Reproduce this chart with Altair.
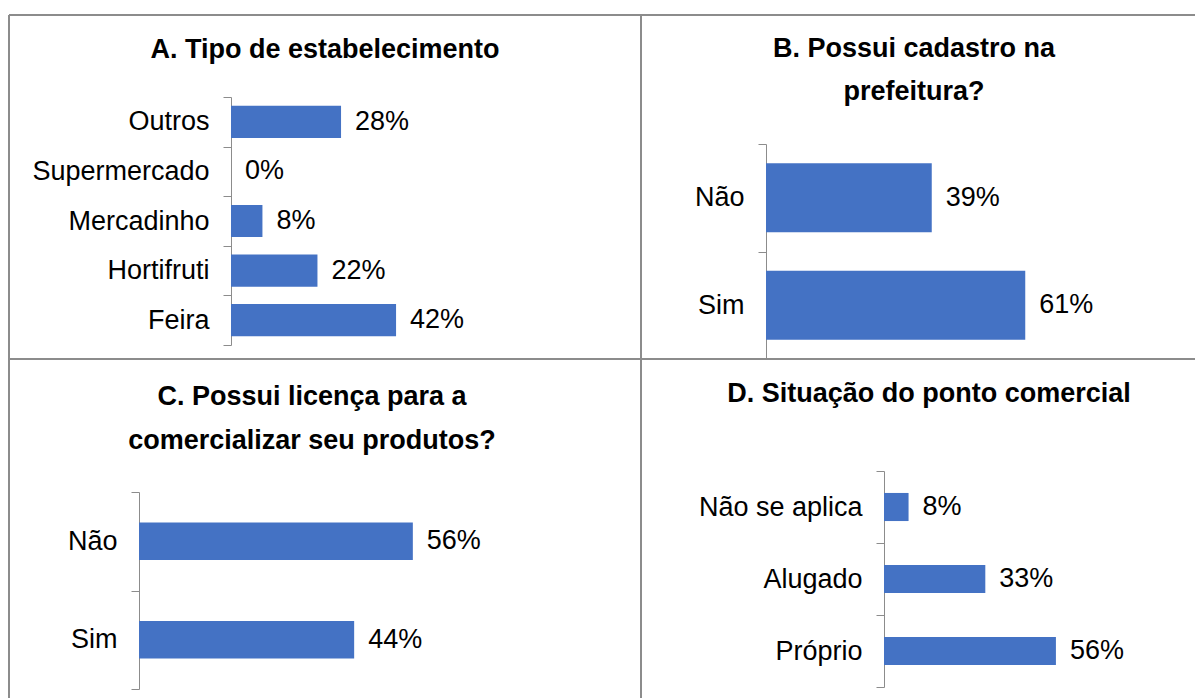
import altair as alt
import pandas as pd

FONT = "Liberation Sans, Arial, sans-serif"
BLUE = "#4472C4"
GRAY = "#8c8c8c"
FS = 27

# ---- data ----
a_cats = ["Outros", "Supermercado", "Mercadinho", "Hortifruti", "Feira"]
a_vals = [28, 0, 8, 22, 42]
b_cats = ["Não", "Sim"]
b_vals = [39, 61]
c_cats = ["Não", "Sim"]
c_vals = [56, 44]
d_cats = ["Não se aplica", "Alugado", "Próprio"]
d_vals = [8, 33, 56]

a_title = ["A. Tipo de estabelecimento"]
b_title = ["B. Possui cadastro na", "prefeitura?"]
c_title = ["C. Possui licença para a", "comercializar seu produtos?"]
d_title = ["D. Situação do ponto comercial"]


def panel(cats, vals, xrange, yrange, band):
    df = pd.DataFrame({"cat": cats, "val": vals})
    df["label"] = [f"{v}%" for v in vals]
    base = alt.Chart(df)
    x = alt.X("val:Q", scale=alt.Scale(domain=[0, 100], range=xrange, nice=False), axis=None)
    y = alt.Y(
        "cat:N",
        sort=cats,
        scale=alt.Scale(range=yrange, paddingInner=0, paddingOuter=0),
        axis=alt.Axis(
            orient="left", offset=-xrange[0], title=None, tickBand="extent",
            tickSize=8, labelPadding=14, labelFont=FONT, labelFontSize=FS,
            labelColor="#000000", domainColor=GRAY, tickColor=GRAY,
            labelLimit=0, grid=False,
        ),
    )
    bars = base.mark_bar(color=BLUE, height=alt.RelativeBandSize(band)).encode(x=x, y=y)
    text = base.mark_text(
        align="left", baseline="middle", dx=14, font=FONT, fontSize=FS, color="#000000"
    ).encode(x=x, y=alt.Y("cat:N", sort=cats), text="label:N")
    return alt.layer(bars, text)


def title(lines, x, y, lh):
    return alt.Chart(pd.DataFrame({"k": [0]})).mark_text(
        font=FONT, fontSize=FS, fontWeight="bold", align="center",
        baseline="alphabetic", lineHeight=lh, color="#000000",
    ).encode(x=alt.value(x), y=alt.value(y), text=alt.value(lines))


def hrule(x1, x2, y):
    return alt.Chart(pd.DataFrame({"k": [0]})).mark_rule(color=GRAY, strokeWidth=2).encode(
        x=alt.value(x1), x2=alt.value(x2), y=alt.value(y))


def vrule(x, y1, y2):
    return alt.Chart(pd.DataFrame({"k": [0]})).mark_rule(color=GRAY, strokeWidth=2).encode(
        x=alt.value(x), y=alt.value(y1), y2=alt.value(y2))


pA = panel(a_cats, a_vals, [231, 624], [97, 345], 0.65)
pB = panel(b_cats, b_vals, [766, 1191], [144, 359], 0.64)
pC = panel(c_cats, c_vals, [139, 628], [492, 689], 0.38)
pD = panel(d_cats, d_vals, [884, 1191], [471, 687], 0.39)

chart = alt.layer(
    hrule(9, 1195, 15), hrule(9, 1195, 359), vrule(9, 15, 698), vrule(641, 15, 698),
    title(a_title, 325, 58, 43), title(b_title, 914, 57, 43),
    title(c_title, 312, 405, 44), title(d_title, 929, 402, 43),
    pA, pB, pC, pD,
).resolve_scale(x="independent", y="independent").resolve_axis(
    x="independent", y="independent"
).properties(
    width=1195, height=698, padding=0, autosize="none"
).configure_view(stroke=None)

chart.save("out.html", embed_options={"renderer": "svg", "actions": False})
